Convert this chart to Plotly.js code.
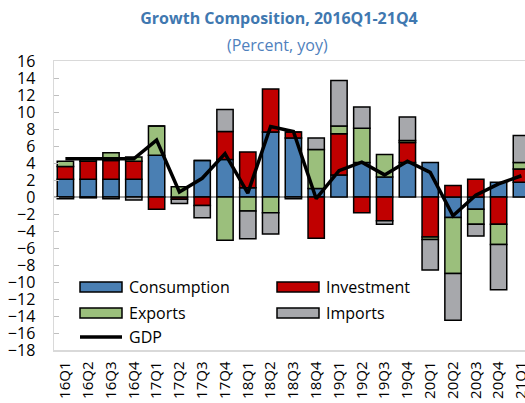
<!DOCTYPE html>
<html>
<head>
<meta charset="utf-8">
<script src="https://cdn.plot.ly/plotly-3.0.1.min.js"></script>
<style>html,body{margin:0;padding:0;overflow:hidden;background:#fff;}</style>
</head>
<body>
<div id="chart" style="width:525px;height:403px;"></div>
<script>
// ---- data ----
const quarters = ["16Q1","16Q2","16Q3","16Q4","17Q1","17Q2","17Q3","17Q4","18Q1","18Q2","18Q3","18Q4","19Q1","19Q2","19Q3","19Q4","20Q1","20Q2","20Q3","20Q4","21Q1"];
const consumption = [2.1, 2.1, 2.1, 2.1, 4.9, 0.0, 4.3, 4.4, 1.1, 7.65, 6.95, 1.0, 2.6, 4.05, 2.35, 4.05, 4.05, -2.4, -1.45, 1.75, 1.75];
const investment  = [1.5, 2.1, 2.2, 2.1, -1.45, -0.25, -1.0, 3.3, 4.2, 5.05, 0.7, -4.85, 4.85, -1.85, -2.8, 2.35, -4.7, 1.35, 2.1, -3.2, 1.55];
const exportsC    = [0.6, 0.2, 0.9, 0.5, 3.45, 1.2, 0.0, -5.1, -1.65, -1.85, 0.0, 4.6, 0.9, 4.05, 2.65, 0.25, -0.3, -6.6, -1.75, -2.4, 0.75];
const importsC    = [-0.2, -0.1, -0.2, -0.35, 0.0, -0.5, -1.45, 2.6, -3.25, -2.5, -0.2, 1.35, 5.35, 2.5, -0.4, 2.75, -3.6, -5.5, -1.4, -5.3, 3.2];
const gdp         = [4.5, 4.5, 4.5, 4.5, 6.7, 0.6, 2.2, 5.1, 0.45, 8.3, 7.7, -0.2, 3.1, 4.1, 2.6, 4.2, 2.9, -2.2, 0.2, 1.55, 2.5];
const seriesNames = ["Consumption","Investment","Exports","Imports","GDP"];
const colors = ["#4a7fb3","#c00000","#9bbf7c","#a7a8ac","#000000"];

// ---- geometry ----
const W = 525, H = 403, L = 54, R = 0, T = 61, B = 53;
const pw = W - L - R, ph = H - T - B;
const px2x = p => (p - L) / pw;
const px2y = p => (H - B - p) / ph;
const FONT = "Open Sans";

const barVals = [consumption, investment, exportsC, importsC];
const traces = barVals.map((v, i) => ({
  type: "bar", x: quarters, y: v, name: seriesNames[i],
  marker: {color: colors[i], line: {color: "#000", width: 1.5}},
  showlegend: false, hoverinfo: "skip"
}));
traces.push({
  type: "scatter", mode: "lines", x: quarters, y: gdp, name: "GDP",
  line: {color: "#000", width: 3.5}, showlegend: false, hoverinfo: "skip"
});

// custom legend
const shapes = [], annotations = [];
const legendItems = [
  {i:0, x:80, y:287}, {i:1, x:277, y:287},
  {i:2, x:80, y:313}, {i:3, x:277, y:313},
  {i:4, x:80, y:337}
];
legendItems.forEach(it => {
  if (it.i < 4) {
    shapes.push({type:"rect", xref:"paper", yref:"paper",
      x0:px2x(it.x), x1:px2x(it.x+42), y0:px2y(it.y+5), y1:px2y(it.y-5),
      fillcolor:colors[it.i], line:{color:"#000", width:1.5}});
  } else {
    shapes.push({type:"line", xref:"paper", yref:"paper",
      x0:px2x(it.x), x1:px2x(it.x+42), y0:px2y(it.y), y1:px2y(it.y),
      line:{color:"#000", width:3.5}});
  }
  annotations.push({xref:"paper", yref:"paper", x:px2x(it.x+47), y:px2y(it.y),
    xanchor:"left", yanchor:"middle", showarrow:false, text:seriesNames[it.i],
    font:{family:FONT, size:16, color:"#000"}});
});
annotations.push({xref:"paper", yref:"paper", x:px2x(277), y:px2y(45),
  xanchor:"center", yanchor:"middle", showarrow:false, text:"(Percent, yoy)",
  font:{family:FONT, size:16, color:"#4f81bd"}});

const catSpan = pw / 22.8; // visible number of categories
const xr = [-0.5, -0.5 + catSpan];

const layout = {
  width: W, height: H,
  margin: {l: L, r: R, t: T, b: B, pad: 0},
  paper_bgcolor: "#fff", plot_bgcolor: "#fff",
  barmode: "relative", bargap: 0.285,
  showlegend: false,
  title: {text: "<b>Growth Composition, 2016Q1-21Q4</b>", xref: "container", yref: "container",
    x: 279 / W, y: 1 - 18 / H, xanchor: "center", yanchor: "middle",
    font: {family: FONT, size: 16, color: "#3f78b0"}},
  xaxis: {type: "category", categoryorder: "array", categoryarray: quarters,
    range: xr, autorange: false, showgrid: false, zeroline: false,
    showline: true, mirror: true, linecolor: "#d9d9d9", linewidth: 1.5,
    ticks: "", tickangle: -90, ticklabelstandoff: 4,
    tickfont: {family: FONT, size: 15, color: "#000"}},
  xaxis2: {type: "linear", overlaying: "x", anchor: "free", position: px2y(197),
    range: xr, autorange: false, showgrid: false, zeroline: false,
    showline: false, ticks: "inside", ticklen: 5, tickcolor: "#bfbfbf", tickwidth: 1,
    tick0: 0.5, dtick: 1, showticklabels: false},
  yaxis: {range: [-18, 16], autorange: false, dtick: 2, tick0: 0,
    showgrid: false, zeroline: true, zerolinecolor: "#a6a6a6", zerolinewidth: 2,
    showline: true, linecolor: "#d9d9d9", linewidth: 1.5,
    ticks: "inside", ticklen: 5, tickcolor: "#bfbfbf", tickwidth: 1,
    ticklabelstandoff: 14,
    tickfont: {family: FONT, size: 16, color: "#000"}},
  shapes: shapes,
  annotations: annotations
};

Plotly.newPlot("chart", traces, layout, {staticPlot: true, displayModeBar: false});
</script>
</body>
</html>
